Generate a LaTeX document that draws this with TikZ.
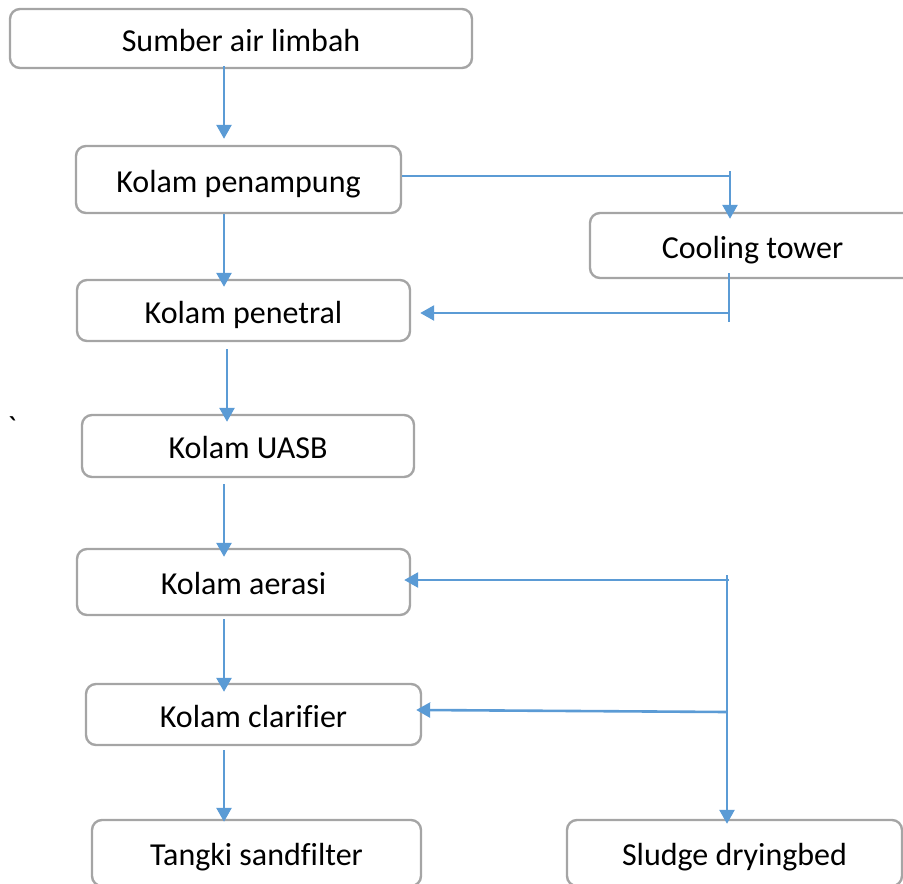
\documentclass[tikz,border=0pt]{standalone}
\usepackage{fontspec}
\setmainfont[Ligatures=NoCommon]{Carlito}
\newfontfamily\plaincarlito{Carlito}
\usetikzlibrary{arrows.meta}
\definecolor{flowblue}{HTML}{5B9BD5}
\definecolor{boxgray}{HTML}{A5A5A5}
\tikzset{
  procbox/.style={draw=boxgray, line width=2.4pt, rounded corners=10pt,
    inner sep=0pt, text height=31pt, text depth=6pt,
    font=\fontsize{32}{38}\selectfont},
  arr/.style={draw=flowblue, line width=2.6pt,
    -{Triangle[width=15pt,length=14pt]}},
  thinflow/.style={draw=flowblue, line width=1.2pt}
}
\begin{document}
\begin{tikzpicture}[x=1pt,y=-1pt]
\useasboundingbox (0,0) rectangle (903,884);
% boxes
\node[procbox, minimum width=462pt, minimum height=59pt] (src) at (241,38.5) {Sumber air limbah};
\node[procbox, minimum width=325pt, minimum height=67pt] (pen) at (238.5,179.5) {Kolam penampung};
\node[procbox, minimum width=325pt, minimum height=65pt] (cool) at (752.5,245.5) {Cooling tower};
\node[procbox, minimum width=333pt, minimum height=61pt] (net) at (243.5,310.5) {Kolam penetral};
\node[procbox, minimum width=332pt, minimum height=62pt] (uasb) at (248,446) {Kolam UASB};
\node[procbox, minimum width=333pt, minimum height=66pt] (aer) at (243.5,582) {Kolam aerasi};
\node[procbox, minimum width=335pt, minimum height=61pt] (cla) at (253.5,714.5) {Kolam clarifier};
\node[procbox, minimum width=329pt, minimum height=66pt] (tan) at (256.5,853) {Tangki sandfilter};
\node[procbox, minimum width=335pt, minimum height=66pt] (slu) at (734.5,853) {Sludge dryingbed};
\node[font=\plaincarlito\fontsize{32}{38}\selectfont, inner sep=0pt] (tick) at (12,428) {`};
% main vertical chain
\draw[arr, shorten <=-3pt, shorten >=6pt] ([xshift=-17pt]src.south) -- ([xshift=-17pt]src.south |- pen.north);
\draw[arr, shorten >=-8pt] ([xshift=-14.5pt]pen.south) -- ([xshift=-14.5pt]pen.south |- net.north);
\draw[arr, shorten <=7pt, shorten >=-8pt] ([xshift=-16.5pt]net.south) -- ([xshift=-16.5pt]net.south |- uasb.north);
\draw[arr, shorten <=6pt, shorten >=-9pt] ([xshift=-24pt]uasb.south) -- ([xshift=-24pt]uasb.south |- aer.north);
\draw[arr, shorten <=3pt, shorten >=-9pt] ([xshift=-19.5pt]aer.south) -- ([xshift=-19.5pt]aer.south |- cla.north);
\draw[arr, shorten <=4pt, shorten >=-3pt] ([xshift=-29.5pt]cla.south) -- ([xshift=-29.5pt]cla.south |- tan.north);
% cooling tower loop
\coordinate (cj) at (730,176);
\coordinate (cjt) at (730,171);
\draw[thinflow] ([yshift=3.5pt]pen.east) -- (cj);
\draw[arr, shorten >=-7pt] (cjt) -- ([xshift=-22.5pt]cool.north);
\coordinate (rtop) at (729,273);
\coordinate (rbot) at (729,322);
\coordinate (rj) at (729,313);
\draw[thinflow] (rtop) -- (rbot);
\draw[arr, shorten >=9pt] (rj) -- (rj -| net.east);
% sludge loop
\coordinate (sj1) at (727,575);
\coordinate (sa) at (729,580);
\coordinate (sb) at (727,712);
\draw[arr, shorten >=-5pt] (sj1) -- ([xshift=-7.5pt]slu.north);
\draw[arr, shorten >=-7pt] (sa) -- (sa -| aer.east);
\draw[arr, shorten >=-6pt] (sb) -- ([yshift=4.5pt]cla.east);
\end{tikzpicture}
\end{document}
